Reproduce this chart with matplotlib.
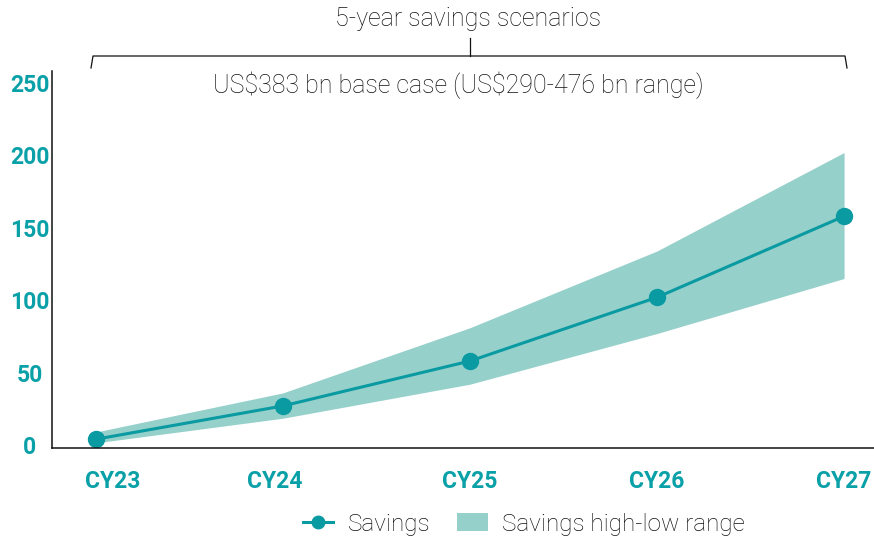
import numpy as np
import matplotlib
matplotlib.use("Agg")
import matplotlib.pyplot as plt
import matplotlib.transforms as mtransforms
from matplotlib.lines import Line2D
from matplotlib.patches import Patch

# data (US$ bn)
years = ["CY23", "CY24", "CY25", "CY26", "CY27"]
savings = [4, 27, 58, 102, 158]
savings_high = [9, 36, 81, 134, 202]
savings_low = [1.5, 18.5, 42, 77, 115]

title = "5-year savings scenarios"
subtitle = r"US\$383 bn base case (US\$290-476 bn range)"

teal = "#0a9aa2"
band = "#96d0cb"
tick_col = "#0aa0a8"
dark = "#111111"

plt.rcParams['font.family'] = ['Roboto', 'DejaVu Sans']

fig = plt.figure(figsize=(8.74, 5.42), dpi=100)
ax = fig.add_axes([52/874, 1-448/542, 1-52/874, (448-71)/542])

x = np.arange(len(years))
ax.fill_between(x, savings_low, savings_high, color=band, lw=0)
ax.plot(x, savings, color=teal, lw=2.2, marker='o', markersize=11.5)

ax.set_xlim(-0.235, 4.16)
ax.set_ylim(-2.07, 258.3)
ax.set_yticks([0, 50, 100, 150, 200, 250])
ax.set_xticks(x)
ax.set_xticklabels(years)

for s in ['top', 'right']:
    ax.spines[s].set_visible(False)
for s in ['left', 'bottom']:
    ax.spines[s].set_color(dark)
    ax.spines[s].set_linewidth(1.1)

ax.tick_params(axis='both', length=0, labelsize=16.5, labelcolor=tick_col)
ax.tick_params(axis='y', pad=16)
ax.tick_params(axis='x', pad=16)
for lab in ax.get_yticklabels():
    lab.set_horizontalalignment('center')
    lab.set_fontweight('bold')
for lab in ax.get_xticklabels():
    lab.set_fontweight('bold')

# first two year labels sit a bit off their points in the original
xoff = [17, -8, 0, 0, 0]
for lab, dx in zip(ax.get_xticklabels(), xoff):
    if dx:
        lab.set_transform(lab.get_transform() +
                          mtransforms.ScaledTranslation(dx/100, 0, fig.dpi_scale_trans))

# header with bracket
fig.text(468/874, 1-19/542, title, ha='center', va='center',
         fontsize=18, fontweight='light', color=dark)
fig.text(458/874, 1-85/542, subtitle, ha='center', va='center',
         fontsize=18, fontweight='light', color=dark)
fig.add_artist(Line2D([91/874, 93/874, 845/874, 847/874],
                      [1-68/542, 1-56/542, 1-56/542, 1-68/542],
                      transform=fig.transFigure, color=dark, lw=0.9))
fig.add_artist(Line2D([470/874, 470/874], [1-38/542, 1-56/542],
                      transform=fig.transFigure, color=dark, lw=0.9))

handles = [Line2D([0], [0], color=teal, lw=2.2, marker='o', markersize=9),
           Patch(facecolor=band, edgecolor='none')]
leg = fig.legend(handles, ["Savings", "Savings high-low range"], ncol=2,
                 loc='center', bbox_to_anchor=(524/874, 1-524/542),
                 frameon=False, fontsize=17.5, handlelength=1.25,
                 columnspacing=1.1, handletextpad=0.6)
for t in leg.get_texts():
    t.set_fontweight('light')
    t.set_color(dark)

fig.savefig("out.png", dpi=100)
